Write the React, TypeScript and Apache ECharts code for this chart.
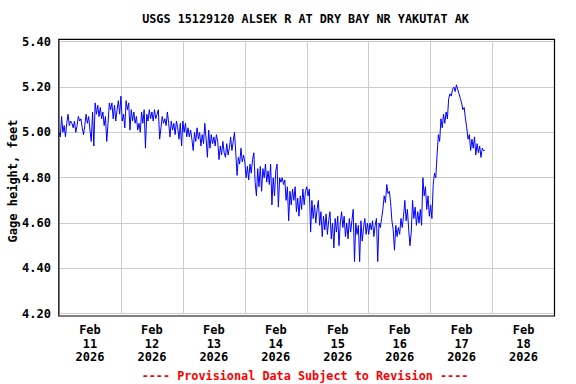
import React, { useEffect, useRef } from "react";
import * as echarts from "echarts";

const titleText = "USGS 15129120 ALSEK R AT DRY BAY NR YAKUTAT AK";
const yAxisName = "Gage height, feet";
const footerText = "---- Provisional Data Subject to Revision ----";
const monthLabel = "Feb";
const yearLabel = "2026";
const dayLabels = ["11", "12", "13", "14", "15", "16", "17", "18"];
const yTicks = [4.2, 4.4, 4.6, 4.8, 5.0, 5.2, 5.4];

// hours since Feb 11 2026 00:00, half-hour readings
const startHour = 0;
const stepHours = 0.5;
const gageHeight = [
  // Feb 11 00-12
  5.00, 4.98, 5.07, 5.00, 5.03, 4.98, 5.04, 5.08, 5.03, 5.05, 5.04, 5.02, 5.05, 5.00, 5.03, 5.07, 5.05, 5.06, 5.02, 4.99, 5.03, 5.08, 5.04, 5.07,
  // Feb 11 12-24
  5.01, 4.96, 5.09, 4.94, 5.13, 5.08, 5.12, 5.07, 5.11, 5.06, 5.09, 5.03, 5.07, 4.96, 5.04, 5.13, 5.10, 5.13, 5.06, 5.12, 5.05, 5.10, 5.14, 5.08,
  // Feb 12 00-12
  5.16, 5.05, 5.08, 5.02, 5.14, 5.10, 5.13, 5.01, 5.10, 5.05, 5.09, 5.04, 5.07, 5.01, 5.04, 5.00, 5.09, 5.04, 5.10, 4.93, 5.08, 5.05, 5.10, 5.06,
  // Feb 12 12-24
  5.09, 5.05, 5.10, 5.06, 5.08, 5.10, 4.97, 5.02, 5.07, 5.04, 5.06, 5.03, 5.09, 5.04, 4.98, 5.05, 5.01, 5.04, 4.99, 5.05, 5.02, 4.97, 5.04, 4.94,
  // Feb 13 00-12
  5.05, 5.00, 5.04, 4.98, 5.02, 4.98, 5.01, 4.97, 4.92, 5.00, 4.96, 5.02, 4.97, 5.00, 4.94, 4.99, 4.95, 5.04, 4.97, 4.89, 5.01, 4.93, 4.99, 4.95,
  // Feb 13 12-24
  4.98, 4.94, 4.99, 4.96, 4.88, 4.94, 4.90, 4.96, 4.91, 4.89, 4.95, 4.90, 4.93, 4.98, 4.92, 4.96, 5.00, 4.91, 4.81, 4.89, 4.86, 4.93, 4.87, 4.90,
  // Feb 14 00-12
  4.87, 4.80, 4.85, 4.79, 4.86, 4.82, 4.88, 4.91, 4.78, 4.72, 4.84, 4.76, 4.85, 4.74, 4.84, 4.80, 4.86, 4.78, 4.83, 4.77, 4.86, 4.68, 4.80, 4.72,
  // Feb 14 12-24
  4.83, 4.86, 4.67, 4.80, 4.78, 4.80, 4.77, 4.79, 4.70, 4.76, 4.61, 4.74, 4.68, 4.75, 4.70, 4.76, 4.65, 4.71, 4.63, 4.72, 4.66, 4.75, 4.68, 4.74,
  // Feb 15 00-12
  4.76, 4.72, 4.75, 4.56, 4.70, 4.62, 4.68, 4.60, 4.66, 4.70, 4.59, 4.65, 4.54, 4.63, 4.57, 4.64, 4.55, 4.61, 4.65, 4.53, 4.60, 4.49, 4.62, 4.56,
  // Feb 15 12-24
  4.63, 4.50, 4.60, 4.65, 4.58, 4.63, 4.54, 4.60, 4.53, 4.62, 4.56, 4.61, 4.66, 4.43, 4.60, 4.55, 4.59, 4.43, 4.61, 4.52, 4.58, 4.62, 4.55, 4.60,
  // Feb 16 00-12
  4.55, 4.60, 4.57, 4.61, 4.54, 4.59, 4.62, 4.43, 4.60, 4.58, 4.62, 4.66, 4.72, 4.69, 4.77, 4.73, 4.74, 4.69, 4.61, 4.57, 4.48, 4.59, 4.54, 4.58,
  // Feb 16 12-24
  4.55, 4.62, 4.58, 4.63, 4.70, 4.61, 4.66, 4.57, 4.50, 4.56, 4.70, 4.62, 4.67, 4.59, 4.65, 4.60, 4.66, 4.59, 4.80, 4.72, 4.76, 4.66, 4.72, 4.63,
  // Feb 17 00-12
  4.68, 4.62, 4.77, 4.82, 4.80, 4.90, 4.99, 4.96, 5.06, 5.02, 5.08, 5.04, 5.09, 5.06, 5.15, 5.17, 5.16, 5.19, 5.20, 5.18, 5.21, 5.19, 5.17, 5.15,
  // Feb 17 12-21
  5.13, 5.10, 5.11, 5.06, 5.02, 4.97, 4.99, 4.92, 4.97, 4.93, 4.98, 4.90, 4.95, 4.91, 4.94, 4.89, 4.93, 4.92, 4.92,
];

const FONT = "'DejaVu Sans Mono', 'Liberation Mono', monospace";

export default function App() {
  const ref = useRef<HTMLDivElement>(null);

  useEffect(() => {
    if (!ref.current) return;
    const chart = echarts.init(ref.current, null, { renderer: "svg" });
    const seriesData = gageHeight.map((v, i) => [startHour + i * stepHours, v]);

    const gridLeft = 59;
    const gridRight = 554.5;
    const gridTop = 41.7;
    const gridBottom = 313.7;

    chart.setOption({
      animation: false,
      backgroundColor: "#ffffff",
      grid: {
        left: gridLeft,
        right: 576 - gridRight,
        top: gridTop,
        bottom: 384 - gridBottom,
        containLabel: false,
        outerBoundsMode: "none",
      },
      xAxis: [
        {
          type: "value",
          min: 0,
          max: 192,
          interval: 24,
          axisLine: { show: false },
          axisTick: { show: false },
          axisLabel: { show: false },
          splitLine: { show: true, lineStyle: { color: "#cccccc", width: 1 } },
        },
        {
          type: "value",
          position: "bottom",
          min: 0,
          max: 192,
          interval: 12,
          axisLine: { show: false },
          axisTick: { show: false },
          splitLine: { show: false },
          axisLabel: {
            show: true,
            margin: 10,
            color: "#000000",
            fontFamily: FONT,
            fontWeight: "bold",
            fontSize: 12,
            lineHeight: 13.3,
            align: "center",
            formatter: (v: number) => {
              const i = Math.round((v - 12) / 24);
              if (Math.abs(v - 12 - i * 24) > 0.01 || i < 0 || i >= dayLabels.length) return "";
              return `${monthLabel}\n${dayLabels[i]}\n${yearLabel}`;
            },
          },
        },
      ],
      yAxis: {
        type: "value",
        min: yTicks[0],
        max: yTicks[yTicks.length - 1],
        interval: 0.2,
        axisLine: { show: false },
        axisTick: { show: false },
        axisLabel: {
          margin: 8,
          color: "#000000",
          fontFamily: FONT,
          fontWeight: "bold",
          fontSize: 12,
          formatter: (v: number) => v.toFixed(2),
        },
        splitLine: { show: true, lineStyle: { color: "#cccccc", width: 1 } },
      },
      series: [
        {
          type: "line",
          xAxisIndex: 0,
          data: seriesData,
          showSymbol: false,
          symbol: "none",
          lineStyle: { color: "#0000ff", width: 1 },
          silent: true,
        },
      ],
      graphic: [
        {
          type: "rect",
          shape: { x: 58.8, y: 39.3, width: 554.5 - 58.8, height: 316 - 39.3 },
          style: { fill: "none", stroke: "#000000", lineWidth: 1.2 },
          z: 100,
        },
        {
          type: "text",
          x: 12.5,
          y: 181,
          rotation: Math.PI / 2,
          style: {
            text: yAxisName,
            fill: "#000000",
            font: `bold 12px ${FONT}`,
            textAlign: "center",
            textVerticalAlign: "middle",
          },
        },
        {
          type: "text",
          x: 305.5,
          y: 19,
          style: {
            text: titleText,
            fill: "#000000",
            font: `bold 11.8px ${FONT}`,
            textAlign: "center",
            textVerticalAlign: "middle",
          },
        },
        {
          type: "text",
          x: 305,
          y: 376,
          style: {
            text: footerText,
            fill: "#ff0000",
            font: `bold 11.8px ${FONT}`,
            textAlign: "center",
            textVerticalAlign: "middle",
          },
        },
      ],
    });

    return () => chart.dispose();
  }, []);

  return (
    <div
      ref={ref}
      style={{ position: "fixed", left: 0, top: 0, width: 576, height: 384, background: "#fff" }}
    />
  );
}
